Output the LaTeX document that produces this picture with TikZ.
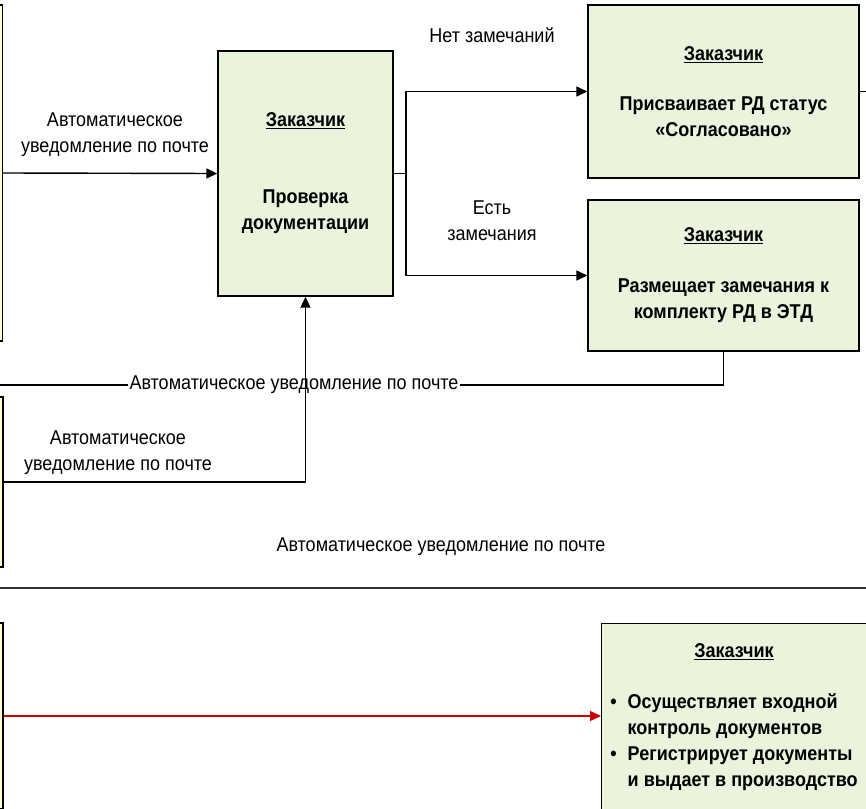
\documentclass[tikz,border=0pt]{standalone}
\usepackage{fontspec}
\setmainfont{Liberation Sans}[FakeStretch=0.9]
\usetikzlibrary{arrows.meta,positioning,calc}

\definecolor{boxgreen}{RGB}{234,243,219}
\definecolor{boxyellow}{RGB}{255,255,204}
\definecolor{linkred}{RGB}{204,0,0}

\tikzset{
  greenbox/.style={draw, fill=boxgreen, line width=1.4pt, align=center, inner sep=2pt,
    font=\bfseries\fontsize{20pt}{26pt}\selectfont},
  srcbox/.style={draw, fill=boxyellow, line width=1.4pt, minimum width=63pt},
  lbl/.style={align=center, inner sep=1pt, font=\fontsize{20pt}{26pt}\selectfont},
  arr/.style={line width=1.4pt, -{Triangle[length=11pt,width=10pt]}},
  link/.style={line width=1.4pt},
}

\begin{document}
\begin{tikzpicture}[x=1pt,y=-1pt]
        \useasboundingbox (0,0) rectangle (866,808);
        \clip (0,0) rectangle (866,808);

        % lanes on the left
        \node[srcbox, minimum height=336pt] (src1) at (-29,173) {};
        \node[srcbox, minimum height=170pt] (src2) at (-28.5,482) {};
        \node[srcbox, minimum height=186pt] (src3) at (-28.5,716) {};

        \node[greenbox, minimum width=175pt, minimum height=245pt] (check) at (305.5,173.5)
          {\underline{Заказчик}\\[51pt]Проверка\\документации};
        \node[greenbox, minimum width=271pt, minimum height=173pt] (ok) at (723.5,91.5)
          {\underline{Заказчик}\\[24pt]Присваивает РД статус\\«Согласовано»};
        \node[greenbox, minimum width=271pt, minimum height=151pt] (rem) at (723.5,275.5)
          {\underline{Заказчик}\\[25pt]Размещает замечания к\\комплекту РД в ЭТД};
        \node[greenbox, minimum width=280pt, minimum height=188pt, anchor=north west] (inbox) at (601,623) {};
        \node[font=\bfseries\fontsize{20pt}{26pt}\selectfont, inner sep=0pt] (intext) at (734,717)
          {\begin{tabular}{@{}c@{}}\underline{Заказчик}\\[25pt]
           \begin{tabular}{@{}l@{\hspace{11pt}}l@{}}
           •&Осуществляет входной\\&контроль документов\\
           •&Регистрирует документы\\&и выдает в производство
           \end{tabular}\end{tabular}};

        \node[lbl] (autoA) at (115,135) {Автоматическое\\уведомление по почте};
        \node[lbl] (noremarks) at (492,35) {Нет замечаний};
        \node[lbl] (remarks) at (492,220.5) {Есть\\замечания};
        \node[lbl, fill=white] (autoB) at (294,385) {Автоматическое уведомление по почте};
        \node[lbl] (autoC) at (118,453) {Автоматическое\\уведомление по почте};
        \node[lbl] (autoD) at (441,547) {Автоматическое уведомление по почте};

        \coordinate (fork) at (406,173.5);
        \coordinate (okout) at (870,91.5);
        \coordinate (leftedge) at (0,385);
        \coordinate (sepL) at (0,588);
        \coordinate (sepR) at (866,588);

        \draw[arr] (src1.east) -- (check.west);
        \draw[link] (check.east) -- (fork);
        \draw[arr] (fork) |- (ok.west);
        \draw[arr] (fork) |- (rem.west);
        \draw[link] (ok.east) -- (okout);
        \draw[link] (rem.south) |- (autoB.east);
        \draw[link] (autoB.west) -- (leftedge);
        \draw[arr] (src2.east) -| (check.south);
        \draw[arr, linkred] (src3.east) -- (src3.east -| inbox.west);
        \draw[line width=1.8pt, black!80] (sepL) -- (sepR);
\end{tikzpicture}
\end{document}
